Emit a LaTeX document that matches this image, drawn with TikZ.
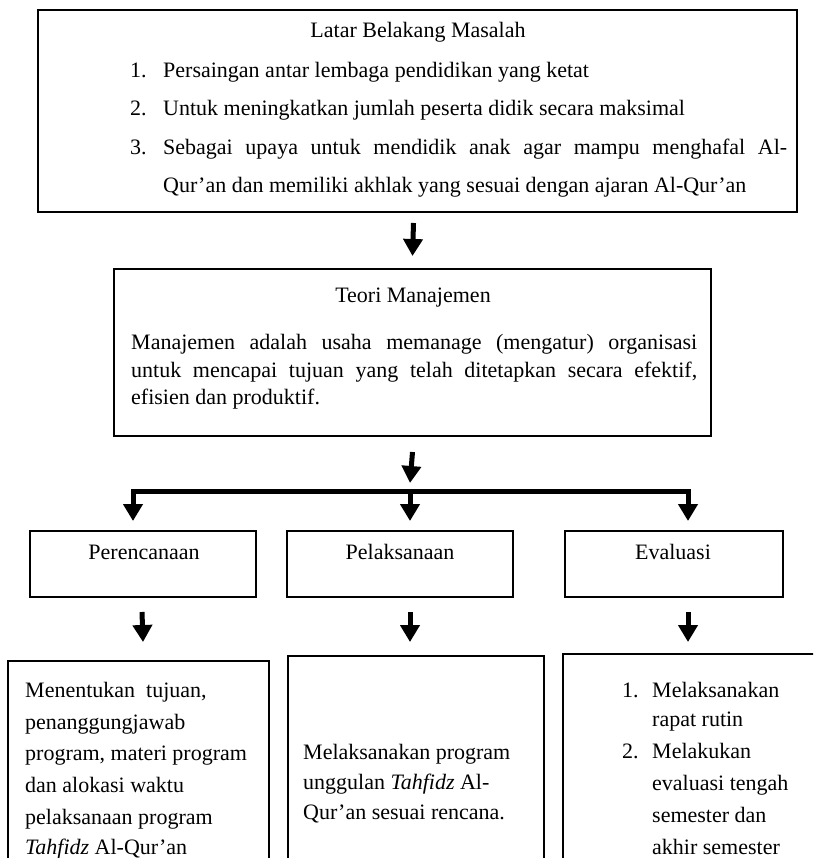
\documentclass[tikz,border=0pt]{standalone}
\usepackage{fontspec}
\setmainfont{Liberation Serif}
\usetikzlibrary{arrows.meta}
\begin{document}
\begin{tikzpicture}[x=1pt,y=-1pt,
 box/.style={draw, line width=2.6pt, anchor=north west, inner sep=0pt, outer sep=0pt},
 txt/.style={font=\fontsize{22}{26}\selectfont, inner sep=0pt, anchor=mid west},
 ctxt/.style={font=\fontsize{22}{26}\selectfont, inner sep=0pt, anchor=mid},
 arr/.style={line width=5pt, -{Triangle[width=19pt,length=17pt]}},
 bar/.style={line width=5pt}]
\clip (0,0) rectangle (813,858);
\fill[white] (0,0) rectangle (813,858);

% boxes
\node[box, minimum width=759pt, minimum height=202pt] (lbm) at (38,10) {};
\node[box, minimum width=597pt, minimum height=167pt] (teori) at (114,269) {};
\node[box, minimum width=226pt, minimum height=66pt] (per) at (30,531) {};
\node[box, minimum width=226pt, minimum height=66pt] (pel) at (287,531) {};
\node[box, minimum width=218pt, minimum height=66pt] (eva) at (565,531) {};
\node[box, minimum width=261pt, minimum height=260pt] (bl) at (8,661) {};
\node[box, minimum width=256pt, minimum height=260pt] (bm) at (288,656) {};
\node[box, minimum width=267pt, minimum height=260pt] (br) at (563,654) {};

% top box text
\node[ctxt] (t0) at (418,35) {Latar Belakang Masalah};
\node[txt] (n1) at (130,75) {1.};
\node[txt] (i1) at (163,75) {Persaingan antar lembaga pendidikan yang ketat};
\node[txt] (n2) at (130,113) {2.};
\node[txt] (i2) at (163,113) {Untuk meningkatkan jumlah peserta didik secara maksimal};
\node[txt] (n3) at (130,152) {3.};
\node[txt] (i3) at (163,152) {\makebox[624pt][s]{Sebagai upaya untuk mendidik anak agar mampu menghafal Al-}};
\node[txt] (i3b) at (163,190) {Qur’an dan memiliki akhlak yang sesuai dengan ajaran Al-Qur’an};

% teori text
\node[ctxt] (t1) at (413,300) {Teori Manajemen};
\node[txt] (m1) at (131,347) {\makebox[566pt][s]{Manajemen adalah usaha memanage (mengatur) organisasi}};
\node[txt] (m2) at (131,375) {\makebox[566pt][s]{untuk mencapai tujuan yang telah ditetapkan secara efektif,}};
\node[txt] (m3) at (131,402) {efisien dan produktif.};

% middle titles
\node[ctxt] (p1) at (144,557) {Perencanaan};
\node[ctxt] (p2) at (400,557) {Pelaksanaan};
\node[ctxt] (p3) at (673,557) {Evaluasi};

% bottom-left text
\node[txt] (l1) at (25,695) {Menentukan\ \ tujuan,};
\node[txt] (l2) at (25,727) {penanggungjawab};
\node[txt] (l3) at (25,758) {program, materi program};
\node[txt] (l4) at (25,790) {dan alokasi waktu};
\node[txt] (l5) at (25,822) {pelaksanaan program};
\node[txt] (l6) at (25,852) {\textit{Tahfidz} Al-Qur’an};

% bottom-middle text
\node[txt] (c1) at (303,757) {Melaksanakan program};
\node[txt] (c2) at (303,787) {unggulan \textit{Tahfidz} Al-};
\node[txt] (c3) at (303,817) {Qur’an sesuai rencana.};

% bottom-right text
\node[txt] (r0) at (622,695) {1.};
\node[txt] (r1) at (652,695) {Melaksanakan};
\node[txt] (r2) at (652,724) {rapat rutin};
\node[txt] (r3) at (622,756) {2.};
\node[txt] (r4) at (652,756) {Melakukan};
\node[txt] (r5) at (652,788) {evaluasi tengah};
\node[txt] (r6) at (652,820) {semester dan};
\node[txt] (r7) at (652,852) {akhir semester};

% connectors
\draw[arr] ([xshift=-4pt,yshift=-11pt]lbm.south) -- ([xshift=0pt,yshift=13pt]teori.north);
\coordinate (bL) at (133,491);
\coordinate (bM) at (410,491);
\coordinate (bR) at (688,491);
\draw[arr] ([yshift=-16pt]teori.south) -- ([yshift=8pt]bM);
\draw[bar, line cap=rect] (bL) -- (bR);
\draw[arr] (bL) -- ([yshift=10pt]bL |- per.north);
\draw[arr] (bM) -- ([yshift=10pt]bM |- pel.north);
\draw[arr] (bR) -- ([yshift=10pt]bR |- eva.north);
\draw[arr] ([xshift=-1pt,yshift=-15pt]per.south) -- ([yshift=19pt]per.south |- bl.north);
\draw[arr] ([xshift=10pt,yshift=-15pt]pel.south) -- ([xshift=10pt,yshift=14pt]pel.south |- bm.north);
\draw[arr] ([xshift=14pt,yshift=-15pt]eva.south) -- ([xshift=14pt,yshift=12pt]eva.south |- br.north);
\end{tikzpicture}
\end{document}
